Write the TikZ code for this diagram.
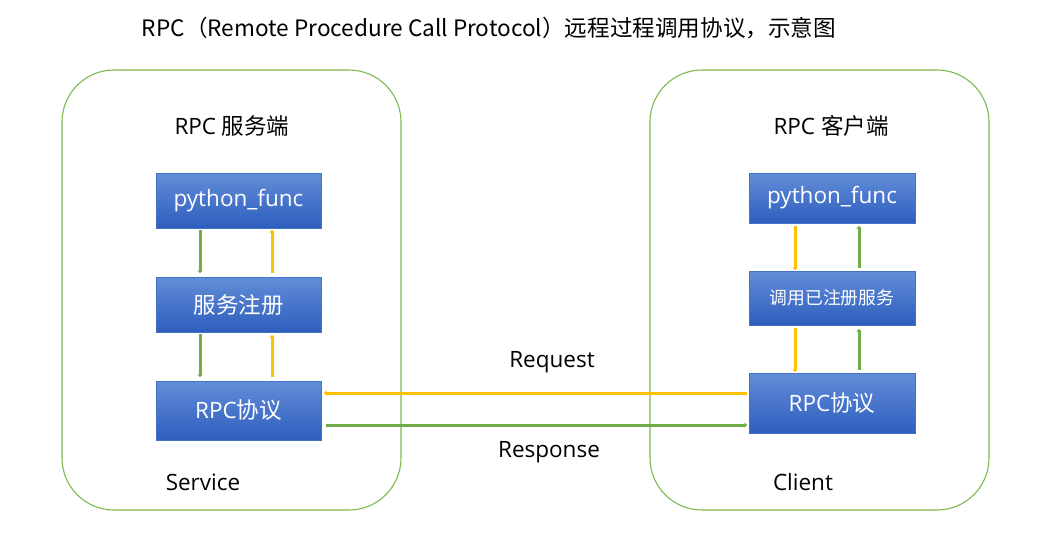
\documentclass[tikz,border=0pt]{standalone}
\usepackage{fontspec}
\setmainfont{Open Sans}
\newfontfamily\cjk{Noto Sans CJK SC}
\usetikzlibrary{arrows.meta}
\definecolor{gframe}{HTML}{7DB94F}
\definecolor{ygl}{HTML}{FFC000}
\definecolor{grn}{HTML}{70AD47}
\definecolor{btop}{HTML}{628DD8}
\definecolor{bbot}{HTML}{2E5EBE}
\definecolor{bedge}{HTML}{4472C4}
\tikzset{
  frame/.style={draw=gframe, line width=1.1pt, rounded corners=52pt},
  blk/.style={draw=bedge, line width=0.8pt, top color=btop, bottom color=bbot, text=white, inner sep=0pt},
  yarr/.style={draw=ygl, line width=3pt, -{Triangle[length=2.5pt,width=5pt]}},
  garr/.style={draw=grn, line width=3pt, -{Triangle[length=2.5pt,width=5pt]}},
  lbl/.style={text=black, font=\fontsize{22.5}{26}\selectfont},
  bfont/.style={font=\fontsize{22.5}{26}\selectfont},
  cfont/.style={font=\cjk\fontsize{22.5}{26}\selectfont},
}
\begin{document}
\begin{tikzpicture}[x=1pt,y=-1pt]
\useasboundingbox (0,0) rectangle (1037,541);
% title
\node[text=black, font=\cjk\fontsize{22.6}{26}\selectfont] (title) at (489,28) {RPC（Remote Procedure Call Protocol）远程过程调用协议，示意图};
% frames
\draw[frame] (62,70) rectangle (401,510);
\draw[frame] (650,70) rectangle (989,510);
\node[lbl] (sh) at (232,126) {RPC {\cjk 服务端}};
\node[lbl] (ch) at (831,126) {RPC {\cjk 客户端}};
% server boxes
\path[blk] (156,173) rectangle (321,228) node[midway, bfont] (s1) {python\_func};
\path[blk] (156,277) rectangle (321,332) node[midway, cfont] (s2) {服务注册};
\path[blk] (156,381) rectangle (321,440) node[midway, bfont] (s3) {RPC{\cjk 协议}};
% client boxes
\path[blk] (749,173) rectangle (915,223) node[midway, bfont] (c1) {python\_func};
\path[blk] (749,271) rectangle (915,325) node[midway, font=\cjk\fontsize{17.8}{21}\selectfont] (c2) {调用已注册服务};
\path[blk] (749,373) rectangle (915,433) node[midway, bfont] (c3) {RPC{\cjk 协议}};
% server arrows
\coordinate (a1) at (200,230); \coordinate (a2) at (200,273);
\coordinate (a3) at (272,273); \coordinate (a4) at (272,230);
\coordinate (a5) at (200,334); \coordinate (a6) at (200,377);
\coordinate (a7) at (272,377); \coordinate (a8) at (272,335);
\draw[garr] (a1) -- (a2);
\draw[yarr] (a3) -- (a4);
\draw[garr] (a5) -- (a6);
\draw[yarr] (a7) -- (a8);
% client arrows
\coordinate (b1) at (795,226); \coordinate (b2) at (795,270);
\coordinate (b3) at (859,268); \coordinate (b4) at (859,226);
\coordinate (b5) at (795,328); \coordinate (b6) at (795,372);
\coordinate (b7) at (859,370); \coordinate (b8) at (859,329);
\draw[yarr] (b1) -- (b2);
\draw[garr] (b3) -- (b4);
\draw[yarr] (b5) -- (b6);
\draw[garr] (b7) -- (b8);
% request / response
\coordinate (r1) at (747,393); \coordinate (r2) at (324,393);
\coordinate (p1) at (326,425); \coordinate (p2) at (747,425);
\draw[yarr] (r1) -- (r2);
\draw[garr] (p1) -- (p2);
\node[lbl] (req) at (552,362) {Request};
\node[lbl] (resp) at (549,452) {Response};
\node[lbl] (svc) at (203,482) {Service};
\node[lbl] (cli) at (803,482) {Client};
\end{tikzpicture}
\end{document}
